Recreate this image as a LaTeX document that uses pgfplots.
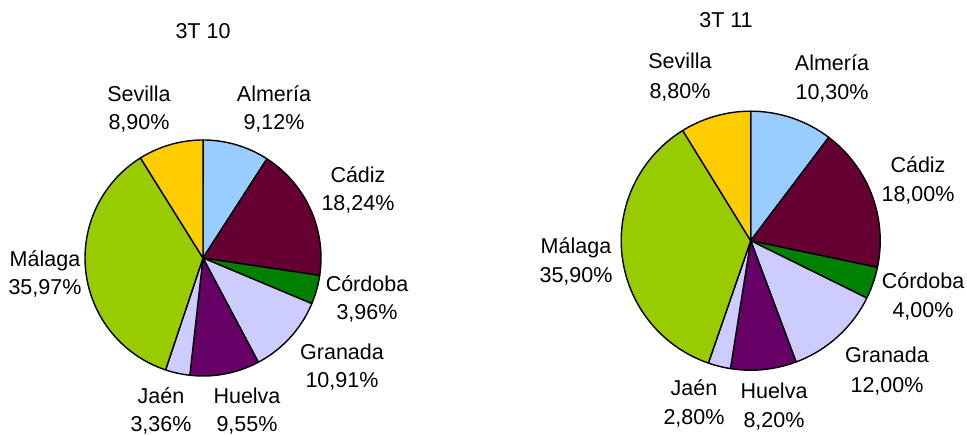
\documentclass[border=0pt]{standalone}
\usepackage{pgfplots}
\pgfplotsset{compat=1.18}
\usepackage{fontspec}
\setmainfont{Liberation Sans}
\definecolor{almeria}{HTML}{99CCFF}
\definecolor{cadiz}{HTML}{660033}
\definecolor{cordoba}{HTML}{008000}
\definecolor{granada}{HTML}{CCCCFF}
\definecolor{huelva}{HTML}{660066}
\definecolor{jaen}{HTML}{CCCCFF}
\definecolor{malaga}{HTML}{99CC00}
\definecolor{sevilla}{HTML}{FFCC00}

% data: percentage / colour, clockwise from 12 o'clock
\def\dataA{9.12/almeria, 18.24/cadiz, 3.96/cordoba, 10.91/granada, 9.55/huelva, 3.36/jaen, 35.97/malaga, 8.90/sevilla}
\def\dataB{10.30/almeria, 18.00/cadiz, 4.00/cordoba, 12.00/granada, 8.20/huelva, 2.80/jaen, 35.90/malaga, 8.80/sevilla}

\newcommand\pieslices[1]{%
  \gdef\cum{0}%
  \foreach \v/\c in #1 {%
    \pgfmathsetmacro\aS{90-3.6*(\cum+\v)}%
    \pgfmathsetmacro\aE{90-3.6*\cum}%
    \pgfmathsetmacro\newcum{\cum+\v}%
    \xdef\cum{\newcum}%
    \edef\doslice{\noexpand\addplot[fill=\c, draw=black, line width=1.4bp, line join=round, domain=\aS:\aE, samples=80] ({cos(x)},{sin(x)}) -- (axis cs:0,0) -- cycle;}%
    \doslice
  }%
}

\newcommand\lab[5]{% x, baseline1, baseline2, line1, line2
  \node[anchor=base, inner sep=0pt] at (#1bp,{435bp-#2bp}) {#4};
  \node[anchor=base, inner sep=0pt] at (#1bp,{435bp-#3bp}) {#5};
}

\begin{document}
\begin{tikzpicture}[font=\fontsize{21.5bp}{26bp}\selectfont]
\begin{axis}[
  anchor=origin, at={(203bp,177bp)},
  x=118bp, y=118bp,
  xmin=-1, xmax=1, ymin=-1, ymax=1,
  hide axis, clip=false]
\pieslices{\dataA}
\end{axis}
\begin{axis}[
  anchor=origin, at={(750.7bp,194.3bp)},
  x=129.5bp, y=129.5bp,
  xmin=-1, xmax=1, ymin=-1, ymax=1,
  hide axis, clip=false]
\pieslices{\dataB}
\end{axis}

% left chart labels
\node[anchor=base, inner sep=0pt] at (203bp,{435bp-39bp}) {3T 10};
\lab{139}{102}{130}{Sevilla}{8,90\%}
\lab{274}{102}{130}{Almería}{9,12\%}
\lab{358}{183}{211}{Cádiz}{18,24\%}
\lab{367}{292}{320}{Córdoba}{3,96\%}
\lab{342}{360}{388}{Granada}{10,91\%}
\lab{247}{403}{431}{Huelva}{9,55\%}
\lab{161}{403}{431}{Jaén}{3,36\%}
\lab{45}{267}{295}{Málaga}{35,97\%}

% right chart labels
\node[anchor=base, inner sep=0pt] at (726bp,{435bp-28bp}) {3T 11};
\lab{680}{69}{99}{Sevilla}{8,80\%}
\lab{832}{71}{100}{Almería}{10,30\%}
\lab{918}{173}{202}{Cádiz}{18,00\%}
\lab{923}{289}{318}{Córdoba}{4,00\%}
\lab{887}{363}{393}{Granada}{12,00\%}
\lab{774}{398}{427}{Huelva}{8,20\%}
\lab{694}{396}{424}{Jaén}{2,80\%}
\lab{576}{254}{283}{Málaga}{35,90\%}

\pgfresetboundingbox
\path[use as bounding box] (0,0) rectangle (967bp,435bp);
\end{tikzpicture}
\end{document}
